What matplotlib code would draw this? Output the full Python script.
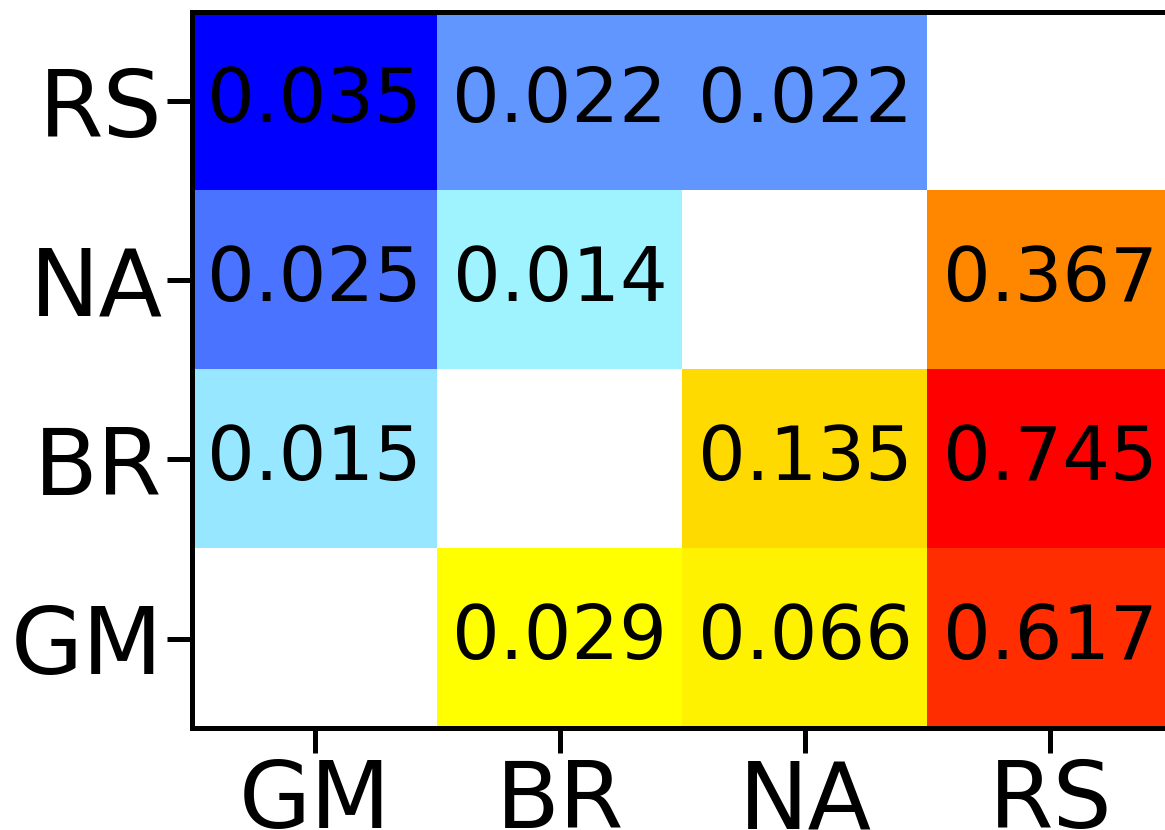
import numpy as np
import matplotlib
matplotlib.use("Agg")
import matplotlib.pyplot as plt
from matplotlib.colors import LinearSegmentedColormap

# rows top -> bottom, columns left -> right
row_labels = ["RS", "NA", "BR", "GM"]
col_labels = ["GM", "BR", "NA", "RS"]
rs_row = [0.035, 0.022, 0.022, np.nan]
na_row = [0.025, 0.014, np.nan, 0.367]
br_row = [0.015, np.nan, 0.135, 0.745]
gm_row = [np.nan, 0.029, 0.066, 0.617]

vals = np.array([rs_row, na_row, br_row, gm_row])
n = len(row_labels)
ii, jj = np.indices(vals.shape)
upper = np.ma.masked_where((ii + jj >= n - 1) | np.isnan(vals), vals)
lower = np.ma.masked_where((ii + jj <= n - 1) | np.isnan(vals), vals)

blues = LinearSegmentedColormap.from_list("bl", ["#9ef3ff", "#0000ff"])

fig = plt.figure(figsize=(11.65, 8.30), dpi=100)
ax = fig.add_axes([192 / 1165, 1 - 728 / 830, (1173 - 192) / 1165, (728 - 12) / 830])

ax.imshow(upper, cmap=blues, vmin=np.nanmin(upper), vmax=np.nanmax(upper), aspect="auto")
ax.imshow(lower, cmap="autumn_r", vmin=np.nanmin(lower), vmax=np.nanmax(lower), aspect="auto")

for i in range(n):
    for j in range(n):
        if not np.isnan(vals[i, j]):
            ax.text(j, i, "%.3f" % vals[i, j], ha="center", va="center", fontsize=54)

ax.set_xticks(range(n))
ax.set_xticklabels(col_labels, fontsize=67)
ax.set_yticks(range(n))
ax.set_yticklabels(row_labels, fontsize=67)
ax.tick_params(length=18, width=3.6, pad=3)
for s in ax.spines.values():
    s.set_linewidth(3.6)

fig.savefig("out.png", dpi=100)
